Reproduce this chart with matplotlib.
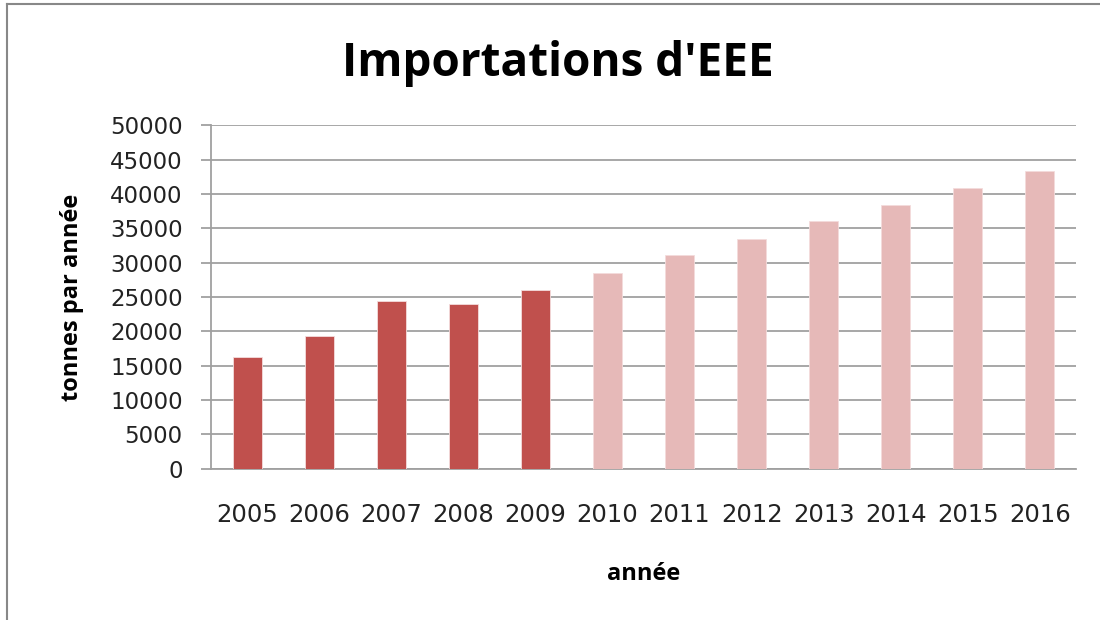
import matplotlib.pyplot as plt
from matplotlib.lines import Line2D

years = ['2005', '2006', '2007', '2008', '2009', '2010',
         '2011', '2012', '2013', '2014', '2015', '2016']
tonnes = [16250, 19350, 24400, 23950, 26050, 28550,
          31050, 33400, 36100, 38400, 40900, 43400]
n_measured = 5  # 2005-2009 measured, after that projection

dark_red = '#C0504D'
light_red = '#E6B9B8'
grid_gray = '#A0A0A0'

plt.rcParams['font.family'] = ['DejaVu Sans']
label_font = ['Open Sans', 'DejaVu Sans']

fig = plt.figure(figsize=(11, 6.2), dpi=100)
ax = fig.add_axes([0.192, 0.244, 0.786, 0.554])

colors = [dark_red if i < n_measured else light_red for i in range(len(years))]
ax.bar(range(len(years)), tonnes, width=0.4, color=colors,
       edgecolor='#F4DCDC', linewidth=0.6, zorder=3)

ax.set_xlim(-0.5, len(years) - 0.5)
ax.set_ylim(0, 50000)
ax.set_yticks(range(0, 50001, 5000))
ax.set_xticks(range(len(years)))
ax.set_xticklabels(years)

ax.yaxis.grid(True, color=grid_gray, linewidth=1.3, zorder=0)
for side in ['top', 'right']:
    ax.spines[side].set_visible(False)
ax.spines['left'].set_color(grid_gray)
ax.spines['left'].set_linewidth(1.3)
ax.spines['bottom'].set_color(grid_gray)
ax.spines['bottom'].set_linewidth(1.3)

ax.tick_params(axis='y', length=7.5, width=1.3, color=grid_gray,
               labelsize=16.5, labelcolor='#222222', pad=13)
ax.tick_params(axis='x', length=0, labelsize=17.5, labelcolor='#222222', pad=25)

ax.set_xlabel('année', fontsize=17, fontweight='bold', family=label_font,
              labelpad=25)
ax.set_ylabel('tonnes par année', fontsize=17, fontweight='bold',
              family=label_font, labelpad=19)
fig.text(0.507, 1 - 76 / 620, "Importations d'EEE", fontsize=33,
         fontweight='bold', family=label_font, ha='center', va='baseline')

# thin gray frame on the top and left edges of the image
fig.add_artist(Line2D([0.006, 1.0], [0.994, 0.994], color='#888888',
                      linewidth=1.5, transform=fig.transFigure))
fig.add_artist(Line2D([0.006, 0.006], [0.0, 0.994], color='#888888',
                      linewidth=1.5, transform=fig.transFigure))

fig.savefig('out.png', dpi=100)
